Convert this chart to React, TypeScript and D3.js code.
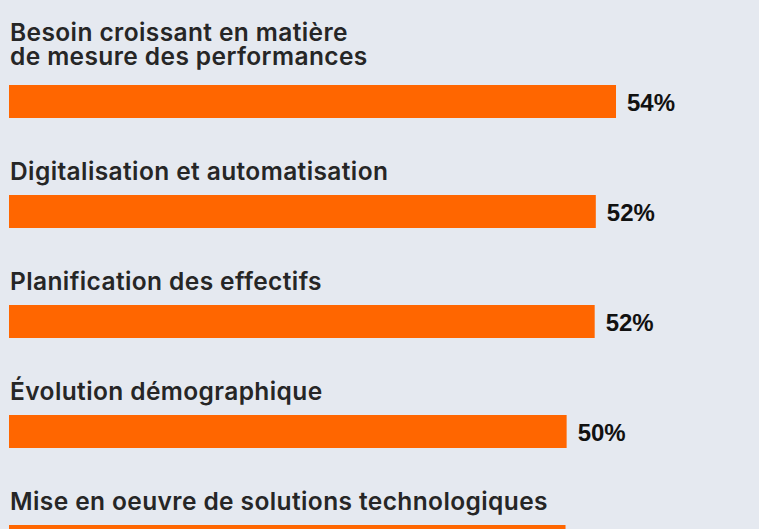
import React, { useRef, useEffect } from 'react';
import * as d3 from 'd3';

// labels are split by hand where the original wraps
const categories = [
    ['Besoin croissant en matière', 'de mesure des performances'],
    ['Digitalisation et automatisation'],
    ['Planification des effectifs'],
    ['Évolution démographique'],
    ['Mise en oeuvre de solutions technologiques'],
];
const values = [54.1, 52.3, 52.2, 49.7, 49.6];

const App = () => {
    const container = useRef(null);

    useEffect(() => {
        document.body.style.margin = '0';
        if (!container.current) return;

        d3.select(container.current).selectAll('*').remove();

        const width = 759;
        const height = 529;
        const margin = { left: 9, top: 85 };
        const step = 110;

        const svg = d3.select(container.current)
            .append('svg')
            .attr('width', width)
            .attr('height', height)
            .style('display', 'block')
            .style('background', '#e5e9f0');

        const x = d3.scaleLinear()
            .domain([0, 60])
            .range([margin.left, margin.left + 60 * 11.22]);

        // band start = top of the first bar
        const y = d3.scaleBand()
            .domain(d3.range(categories.length).map(String))
            .range([margin.top, margin.top + step * categories.length])
            .paddingInner(0)
            .paddingOuter(0);

        const barH = 33;
        const lineH = 24.5;

        const rows = svg.selectAll('g.row')
            .data(values.map((v, i) => ({ v, i, lines: categories[i] })))
            .join('g')
            .attr('class', 'row')
            .attr('transform', d => `translate(0,${y(String(d.i))})`);

        rows.append('rect')
            .attr('x', x(0))
            .attr('y', 0)
            .attr('width', d => x(d.v) - x(0))
            .attr('height', barH)
            .attr('fill', '#ff6600');

        rows.append('text')
            .attr('x', d => x(d.v) + 11)
            .attr('y', 25.5)
            .attr('font-family', '"Liberation Sans", Arial, sans-serif')
            .attr('font-weight', 700)
            .attr('font-size', 24)
            .attr('fill', '#111')
            .text(d => `${Math.round(d.v)}%`);

        rows.each(function (d) {
            const g = d3.select(this);
            const n = d.lines.length;
            // wrapped labels sit a little higher above their bar
            const last = -15.5 - (n - 1) * 4.5;
            d.lines.forEach((line, k) => {
                g.append('text')
                    .attr('x', 10)
                    .attr('y', last - (n - 1 - k) * lineH)
                    .attr('font-family', 'Inter, "Noto Sans", sans-serif')
                    .attr('font-weight', 600)
                    .attr('font-size', 24.5)
                    .attr('letter-spacing', 0.4)
                    .attr('fill', '#262626')
                    .text(line);
            });
        });
    }, []);

    return <div ref={container}></div>;
};

export default App;
